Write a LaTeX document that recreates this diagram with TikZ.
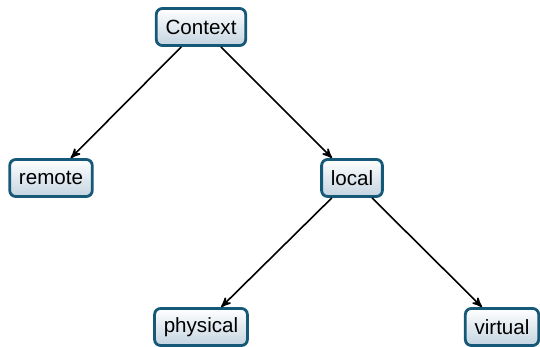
\documentclass[tikz,border=0pt]{standalone}
\usepackage{fontspec}
\setmainfont{Liberation Sans}
\usepackage{tikz}
\usetikzlibrary{arrows, positioning}
\definecolor{boxline}{RGB}{22,88,120}
\definecolor{boxfill}{RGB}{196,212,224}
\tikzset{
	ctxbox/.style={rectangle, rounded corners=3pt, minimum height=18.5pt, inner xsep=4.6pt, text centered, draw=boxline, line width=1.4pt, top color=white, bottom color=boxfill, font=\fontsize{10.3}{12}\selectfont},
	arrow/.style={line width=0.8pt,->,>=stealth'}
}

\begin{document}
\begin{tikzpicture}
		
		\useasboundingbox (0,0) rectangle (270pt,173.5pt);
		
		% Nodes
		\node (ctx) [ctxbox] at (100.5pt,160pt) {Context};
		\node (remote) [ctxbox] at (25.5pt,84.5pt) {remote};
		\node (local) [ctxbox] at (176pt,84.5pt) {local};
		\node (physical) [ctxbox] at (100.5pt,10pt) {physical};
		\node (virtual) [ctxbox] at (251pt,10pt) {virtual};
		
		% Arrows
		\draw [arrow] (ctx) -- (remote);
		\draw [arrow] (ctx) -- (local);
		\draw [arrow] (local) -- (physical);
		\draw [arrow] (local) -- (virtual);
		
	\end{tikzpicture}
\end{document}
